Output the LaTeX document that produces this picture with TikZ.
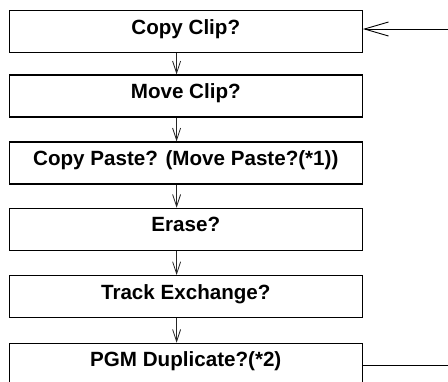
\documentclass[tikz,border=0pt]{standalone}
\usepackage{fontspec}
\setmainfont{Liberation Sans}
\usetikzlibrary{arrows.meta}
\tikzset{
  stepbox/.style={draw=black, line width=1.2pt, minimum width=353pt, minimum height=42pt,
    inner sep=0pt, anchor=north west, text height=0.75em, text depth=0.25em,
    font=\fontsize{20.6}{24}\selectfont\bfseries},
  flow/.style={draw=black!85, line width=0.8pt, -{Straight Barb[length=12pt,width=8pt]}},
  entry/.style={draw=black, line width=0.9pt, -{Straight Barb[length=24pt,width=14pt]}},
  exitline/.style={draw=black, line width=0.9pt}
}
\begin{document}
\begin{tikzpicture}[x=1pt,y=1pt]
\useasboundingbox (0,0) rectangle (448,-381);
\clip (0,0) rectangle (448,-381);
\node[stepbox] (b1) at (8.7,-10) {Copy Clip?};
\node[stepbox] (b2) at (8.7,-74.3) {Move Clip?};
\node[stepbox] (b3) at (8.7,-141.3) {Copy Paste? (Move Paste?(*1))};
\node[stepbox] (b4) at (8.7,-207.7) {Erase?};
\node[stepbox] (b5) at (8.7,-275) {Track Exchange?};
\node[stepbox] (b6) at (8.7,-342.7) {PGM Duplicate?(*2)};
\coordinate (in) at (448,-29);
\coordinate (out) at (448,-365.7);
\foreach \a/\b in {b1/b2,b2/b3,b3/b4,b4/b5,b5/b6}{
  \draw[flow] ([xshift=-9.2pt]\a.south) -- ([xshift=-9.2pt]\b.north);
}
\draw[entry] (in) -- (in -| b1.east);
\draw[exitline] (out -| b6.east) -- (out);
\end{tikzpicture}
\end{document}
